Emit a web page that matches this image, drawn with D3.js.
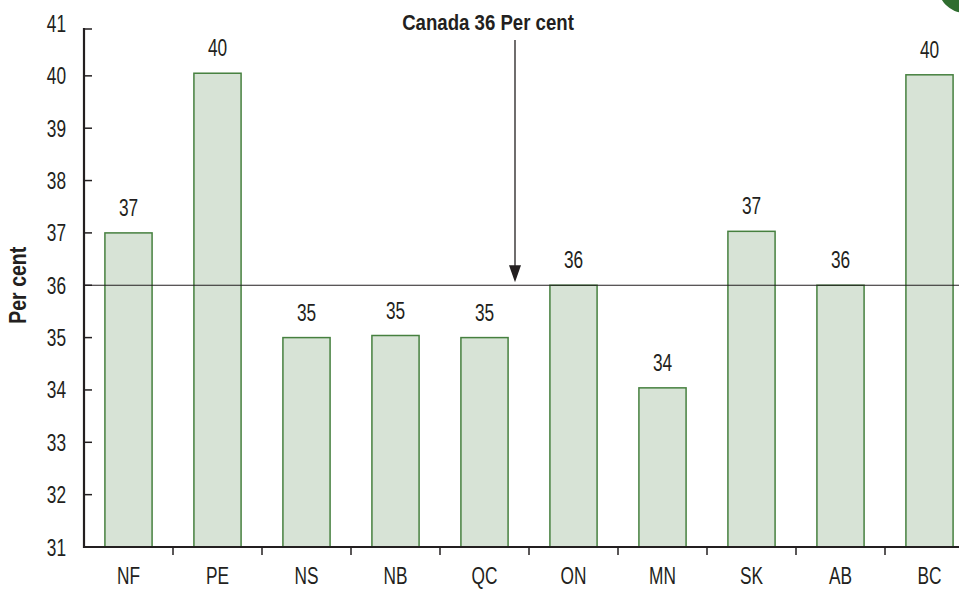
<!DOCTYPE html>
<html><head><meta charset="utf-8">
<script src="https://cdn.jsdelivr.net/npm/d3@7"></script>
<style>
body{margin:0;background:#fff;}
text{font-family:"Liberation Sans",Arial,sans-serif;fill:#231f20;}
</style></head>
<body>
<svg id="c" width="959" height="590"></svg>
<script>
const categories = ["NF","PE","NS","NB","QC","ON","MN","SK","AB","BC"];
const values = [37, 40.05, 35, 35.04, 35, 36, 34.04, 37.03, 36, 40.02];
const labels = ["37","40","35","35","35","36","34","37","36","40"];
const yTicks = [31,32,33,34,35,36,37,38,39,40,41];
const canadaValue = 36;
const canadaLabel = "Canada 36 Per cent";
const yTitle = "Per cent";

const svg = d3.select("#c");
const left = 84, bottom = 547, step = 89;
const x = d3.scaleBand().domain(categories).range([left, left + step*categories.length]).paddingInner(0.47).paddingOuter(0.235);
const y = d3.scaleLinear().domain([31, 41]).range([bottom, 23.5]);

// condensed text helper
function txt(px, py, str, opt) {
  opt = opt || {};
  const g = svg.append("g").attr("transform", `translate(${px},${py})${opt.rotate ? " rotate(" + opt.rotate + ")" : ""} scale(${opt.sx || 0.72},1)`);
  return g.append("text").attr("text-anchor", opt.anchor || "middle")
    .attr("font-size", opt.size || 24).attr("font-weight", opt.bold ? "bold" : "normal").text(str);
}

// bars
svg.selectAll("rect.bar").data(categories).enter().append("rect")
  .attr("x", d => x(d)).attr("width", x.bandwidth())
  .attr("y", (d,i) => y(values[i])).attr("height", (d,i) => bottom - y(values[i]))
  .attr("fill", "#d7e3d6").attr("stroke", "#46803f").attr("stroke-width", 1.5);

// value labels
categories.forEach((c, i) => {
  txt(x(c) + x.bandwidth()/2, y(values[i]) - 17, labels[i]);
});

// reference line
svg.append("line").attr("x1", left).attr("x2", 959).attr("y1", y(canadaValue)).attr("y2", y(canadaValue))
  .attr("stroke", "#231f20").attr("stroke-width", 1.2);

// y axis
svg.append("line").attr("x1", left).attr("x2", left).attr("y1", 28).attr("y2", bottom + 1)
  .attr("stroke", "#231f20").attr("stroke-width", 2.2);
yTicks.forEach(t => {
  const yy = t === 41 ? 29 : y(t);
  svg.append("line").attr("x1", left).attr("x2", left + 8).attr("y1", yy).attr("y2", yy)
    .attr("stroke", "#231f20").attr("stroke-width", 1.5);
  txt(66, y(t) + 8.5, String(t), {anchor: "end"});
});

// x axis
svg.append("line").attr("x1", left - 1).attr("x2", 959).attr("y1", bottom).attr("y2", bottom)
  .attr("stroke", "#231f20").attr("stroke-width", 2.2);
categories.forEach((c, i) => {
  if (i > 0) {
    const xx = left + step * i;
    svg.append("line").attr("x1", xx).attr("x2", xx).attr("y1", bottom).attr("y2", bottom + 8)
      .attr("stroke", "#231f20").attr("stroke-width", 1.5);
  }
  txt(x(c) + x.bandwidth()/2, 584, c);
});

// y title
txt(26, y(36), yTitle, {rotate: -90, bold: true, size: 23, sx: 0.85});

// annotation
txt(488, 30, canadaLabel, {bold: true, size: 23, sx: 0.81});
svg.append("line").attr("x1", 515).attr("x2", 515).attr("y1", 40).attr("y2", y(canadaValue) - 15)
  .attr("stroke", "#231f20").attr("stroke-width", 1.3);
svg.append("path").attr("d", `M509,${y(canadaValue)-20} L521,${y(canadaValue)-20} L515,${y(canadaValue)-3} Z`).attr("fill", "#231f20");

// corner circle
svg.append("circle").attr("cx", 965).attr("cy", -14).attr("r", 27).attr("fill", "#2f6d2f");
</script>
</body></html>
